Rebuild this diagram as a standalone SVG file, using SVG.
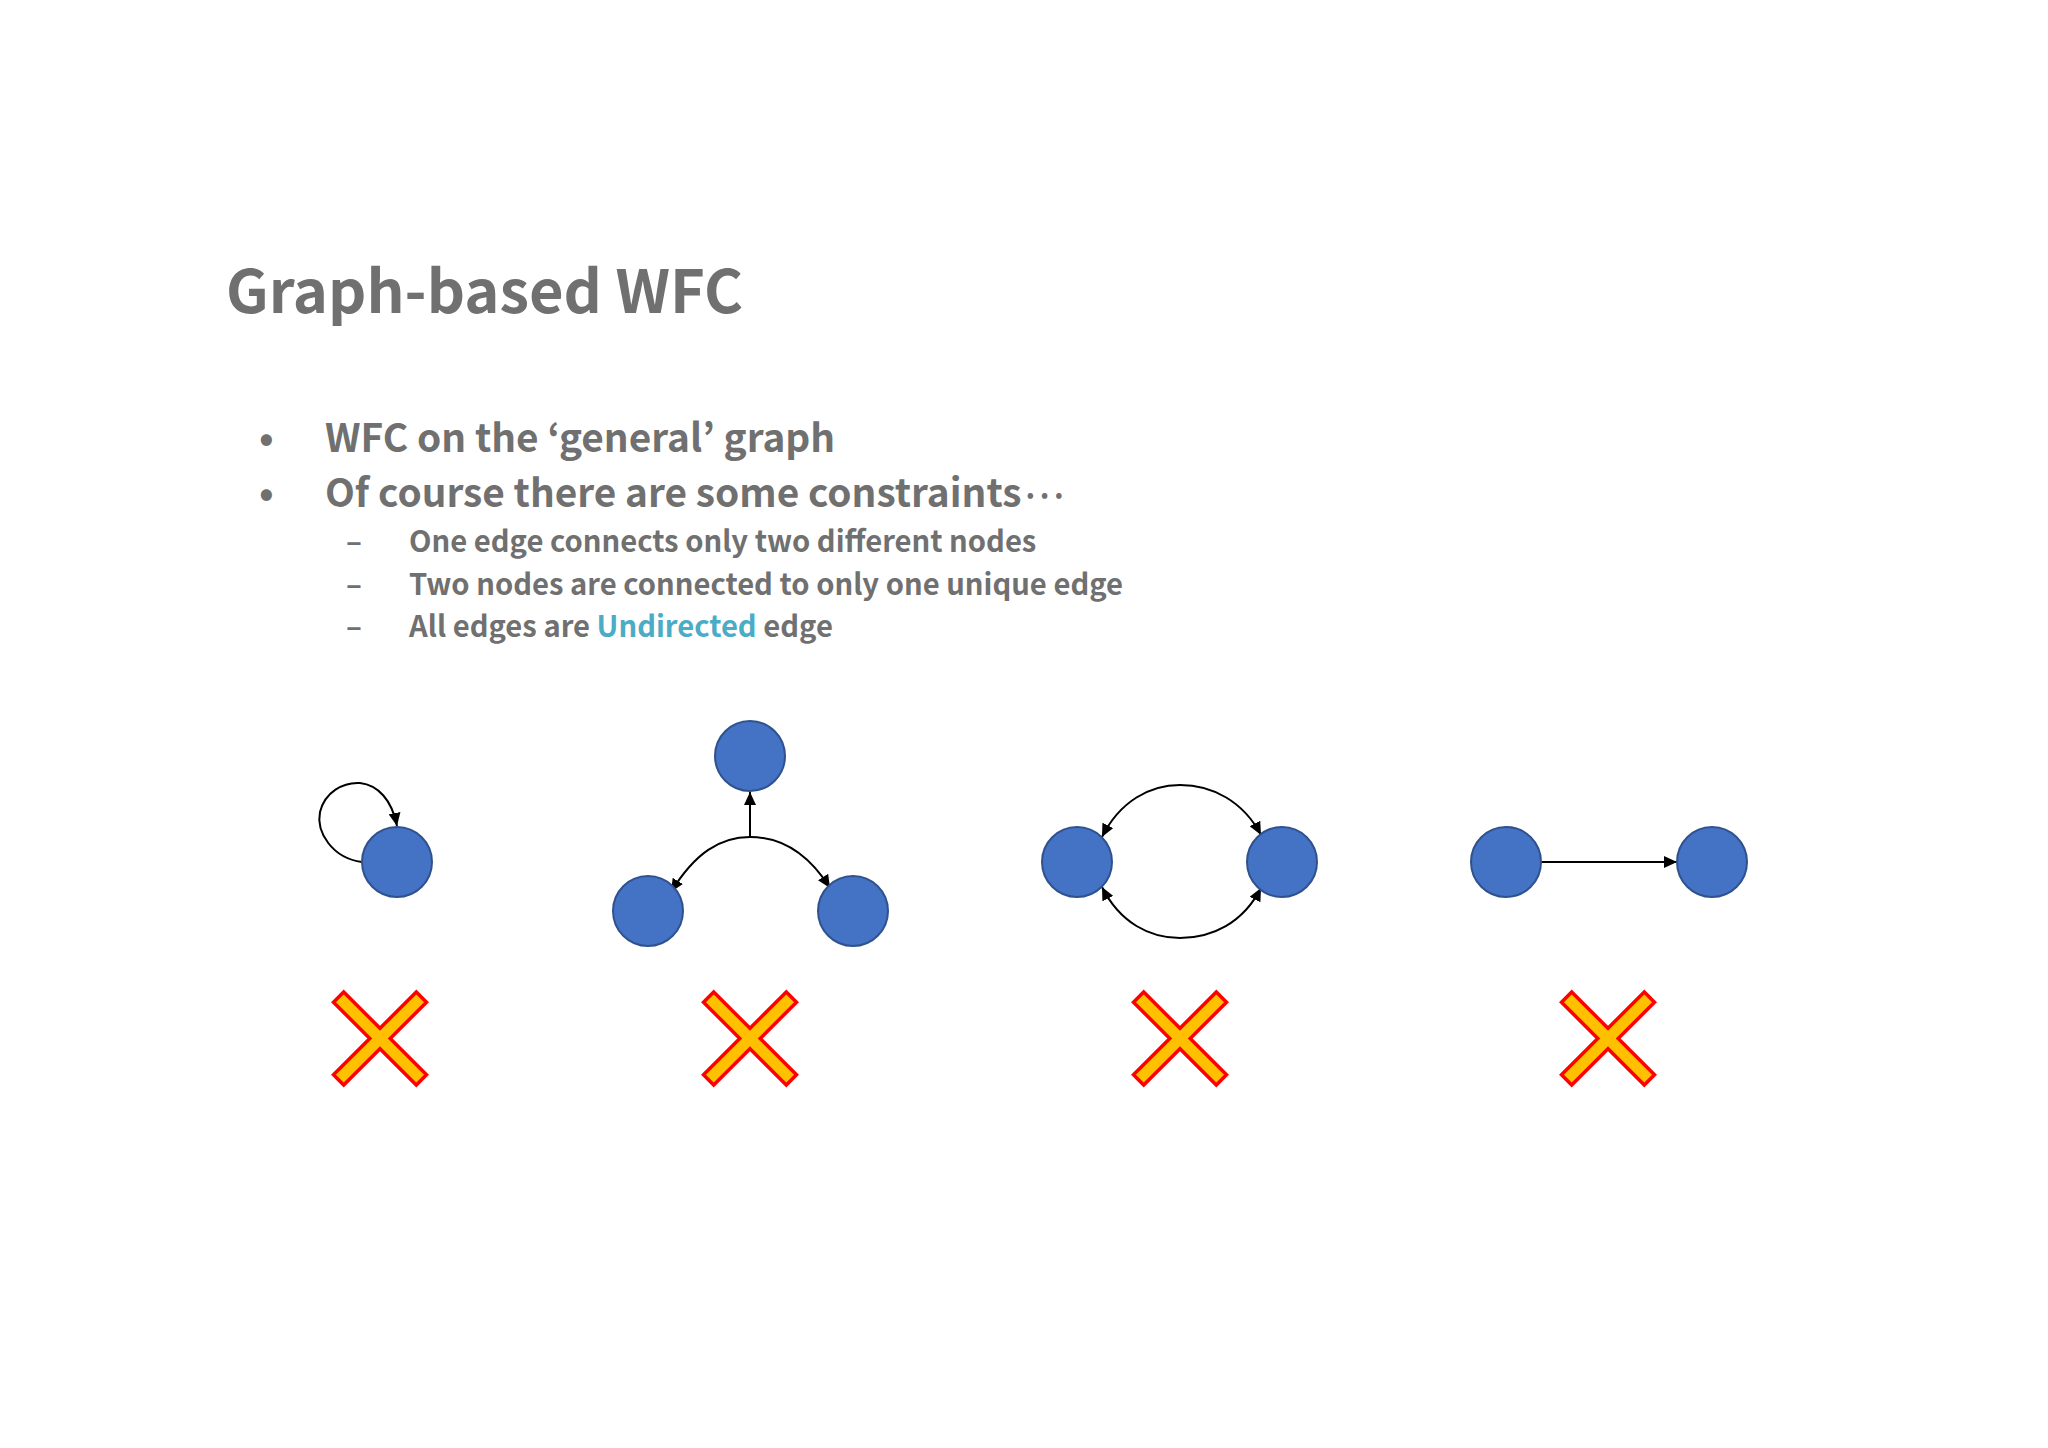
<svg xmlns="http://www.w3.org/2000/svg" width="2048" height="1448" viewBox="0 0 2048 1448">
<defs>
<style>
.t{font-family:"Noto Sans CJK KR","Noto Sans",sans-serif;fill:#707070;font-weight:bold}
.title{font-size:59.6px}
.b1{font-size:38.8px}
.b2{font-size:29.2px}
.hl{fill:#4BACC6}
.node{fill:#4472C4;stroke:#2F528F;stroke-width:2}
.edge{fill:none;stroke:#000;stroke-width:2}
.x{fill:#FFC000;stroke:#FF0000;stroke-width:3.5;stroke-linejoin:miter}
</style>
<marker id="ah" markerUnits="userSpaceOnUse" markerWidth="14" markerHeight="12" viewBox="0 0 14 12" refX="13" refY="6" orient="auto-start-reverse">
<path d="M0,0 L13,6 L0,12 z" fill="#000"/>
</marker>
<polygon id="cross" points="0,-10.2 36.3,-46.5 46.5,-36.3 10.2,0 46.5,36.3 36.3,46.5 0,10.2 -36.3,46.5 -46.5,36.3 -10.2,0 -46.5,-36.3 -36.3,-46.5"/>
</defs>
<rect width="2048" height="1448" fill="#fff"/>
<g id="text">
<text class="t title" x="226" y="313">Graph-based WFC</text>
<text class="t b1" x="259" y="452">•</text>
<text class="t b1" x="325" y="452">WFC on the ‘general’ graph</text>
<text class="t b1" x="259" y="507">•</text>
<text class="t b1" x="325" y="507">Of course there are some constraints<tspan font-size="30px" letter-spacing="-3.5px">···</tspan></text>
<text class="t b2" x="346" y="552">–</text>
<text class="t b2" x="409" y="552">One edge connects only two different nodes</text>
<text class="t b2" x="346" y="595">–</text>
<text class="t b2" x="409" y="595">Two nodes are connected to only one unique edge</text>
<text class="t b2" x="346" y="637">–</text>
<text class="t b2" x="409" y="637">All edges are <tspan class="hl">Undirected</tspan> edge</text>
</g>
<g id="connectors">
<path class="edge" marker-end="url(#ah)" d="M362,862 C332,858 316,832 320,812 C325,792 343,782 360,783 C378,785 392,800 397,826"/>
<path class="edge" marker-end="url(#ah)" d="M750,837 L750,792"/>
<path class="edge" marker-start="url(#ah)" marker-end="url(#ah)" d="M671,892 C695,853 720,837 750,837 C780,837 808,853 830,888"/>
<path class="edge" marker-start="url(#ah)" marker-end="url(#ah)" d="M1102,837 C1120,801 1150,785 1180,785 C1212,785 1243,801 1261,835"/>
<path class="edge" marker-start="url(#ah)" marker-end="url(#ah)" d="M1102,887 C1120,923 1150,938 1180,938 C1212,938 1243,923 1261,888"/>
<path class="edge" marker-end="url(#ah)" d="M1541,862 L1677,862"/>
</g>
<g id="node-a1"><circle class="node" cx="397" cy="862" r="35"/></g>
<g id="node-b1"><circle class="node" cx="750" cy="756" r="35"/></g>
<g id="node-b2"><circle class="node" cx="648" cy="911" r="35"/></g>
<g id="node-b3"><circle class="node" cx="853" cy="911" r="35"/></g>
<g id="node-c1"><circle class="node" cx="1077" cy="862" r="35"/></g>
<g id="node-c2"><circle class="node" cx="1282" cy="862" r="35"/></g>
<g id="node-d1"><circle class="node" cx="1506" cy="862" r="35"/></g>
<g id="node-d2"><circle class="node" cx="1712" cy="862" r="35"/></g>
<g id="cross-1"><use href="#cross" class="x" x="380" y="1038.5"/></g>
<g id="cross-2"><use href="#cross" class="x" x="750" y="1038.5"/></g>
<g id="cross-3"><use href="#cross" class="x" x="1180" y="1038.5"/></g>
<g id="cross-4"><use href="#cross" class="x" x="1608" y="1038.5"/></g>
</svg>
